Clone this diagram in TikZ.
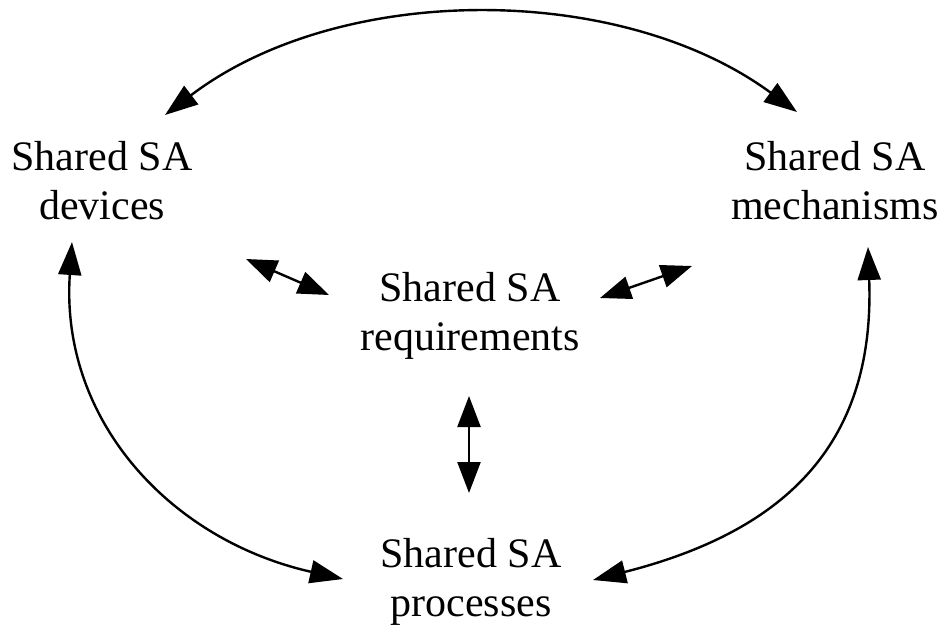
\documentclass[tikz,border=0pt]{standalone}
\usepackage{fontspec}
\setmainfont{Liberation Serif}
\usetikzlibrary{arrows.meta}
\begin{document}
\begin{tikzpicture}[x=1pt,y=-1pt,
  lbl/.style={inner sep=0pt,align=center,font=\fontsize{42}{49}\selectfont},
  arr/.style={line width=2.4pt,{Triangle[length=33pt,width=23pt]}-{Triangle[length=33pt,width=23pt]}},
  sarr/.style={line width=2.4pt,{Triangle[length=31pt,width=23pt]}-{Triangle[length=31pt,width=23pt]}}]
\useasboundingbox[fill=white] (0,0) rectangle (947,624);
\node[lbl,anchor=north] (dev) at (102,141) {Shared SA\\devices};
\node[lbl,anchor=north] (mech) at (835,141) {Shared SA\\mechanisms};
\node[lbl,anchor=north] (req) at (470,272) {Shared SA\\requirements};
\node[lbl,anchor=north] (proc) at (471,538) {Shared SA\\processes};
% arrow tip coordinates
\coordinate (devTop) at (165,115);
\coordinate (mechTop) at (797,112);
\coordinate (devRight) at (246,259);
\coordinate (reqLeft) at (329,295);
\coordinate (mechLeft) at (692,266);
\coordinate (reqRight) at (600,298);
\coordinate (reqBot) at (469,396);
\coordinate (procTop) at (469,493);
\coordinate (devBot) at (72,242);
\coordinate (procLeft) at (343,579);
\coordinate (mechBot) at (868,247);
\coordinate (procRight) at (593,580);
\draw[arr] (devTop) .. controls (340,-18) and (620,-18) .. (mechTop);
\draw[sarr] (devRight) -- (reqLeft);
\draw[sarr] (mechLeft) -- (reqRight);
\draw[sarr] (reqBot) -- (procTop);
\draw[arr] (devBot) .. controls (60,420) and (170,540) .. (procLeft);
\draw[arr] (mechBot) .. controls (875,440) and (790,530) .. (procRight);
\end{tikzpicture}
\end{document}
